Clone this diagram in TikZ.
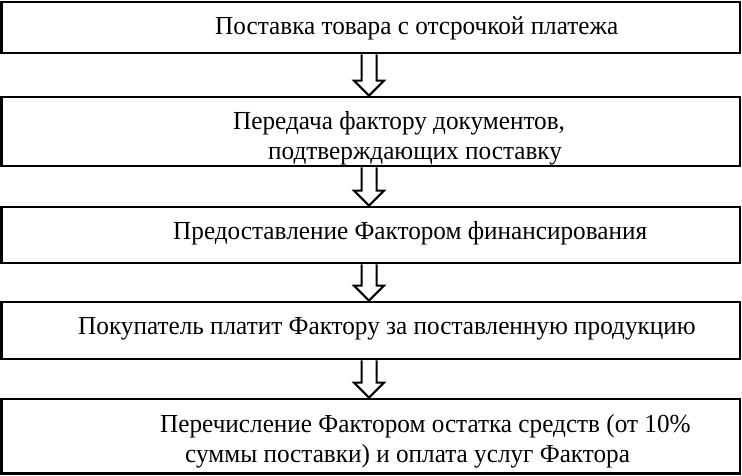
\documentclass[tikz,border=0pt]{standalone}
\usepackage{fontspec}
\setmainfont{Liberation Serif}[FakeStretch=0.97]
\usetikzlibrary{calc}
\tikzset{
  box/.style={draw, line width=2.8pt, rectangle, inner sep=0pt, minimum width=738.5pt},
  txt/.style={anchor=base west, inner sep=0pt, font=\fontsize{26}{30}\selectfont},
  fatarrow/.style={draw, line width=2pt, fill=white, line join=miter}
}
\newcommand\fatarr[2]{%
  \draw[fatarrow] ($(#1.south -| ax)+(-7.5,0)$) -- ($(#2.north -| ax)+(-7.5,-15)$) -- ++(-7.5,0)
    -- (#2.north -| ax) -- ++(15,-15) -- ++(-7.5,0) -- ($(#1.south -| ax)+(7.5,0)$);}
\begin{document}
\begin{tikzpicture}[x=1pt,y=-1pt]
\useasboundingbox (0,0) rectangle (742,475);
\coordinate (ax) at (369,0);
\node[box, minimum height=51pt] (b1) at (370.75,27.5) {};
\node[box, minimum height=69pt] (b2) at (370.75,131.5) {};
\node[box, minimum height=56pt] (b3) at (370.75,235) {};
\node[box, minimum height=57pt] (b4) at (370.75,330.5) {};
\node[box, minimum height=74.5pt] (b5) at (370.75,436.25) {};
\fatarr{b1}{b2}
\fatarr{b2}{b3}
\fatarr{b3}{b4}
\fatarr{b4}{b5}
\node[txt] (t1) at (215,34.5) {Поставка товара с отсрочкой платежа};
\node[txt] (t2a) at (233,129.5) {Передача фактору документов,};
\node[txt] (t2b) at (268,159.5) {подтверждающих поставку};
\node[txt] (t3) at (173,239.5) {Предоставление Фактором финансирования};
\node[txt] (t4) at (78,334.5) {Покупатель платит Фактору за поставленную продукцию};
\node[txt] (t5a) at (160,432.5) {Перечисление Фактором остатка средств (от 10\%};
\node[txt] (t5b) at (185,462.5) {суммы поставки) и оплата услуг Фактора};
\end{tikzpicture}
\end{document}
